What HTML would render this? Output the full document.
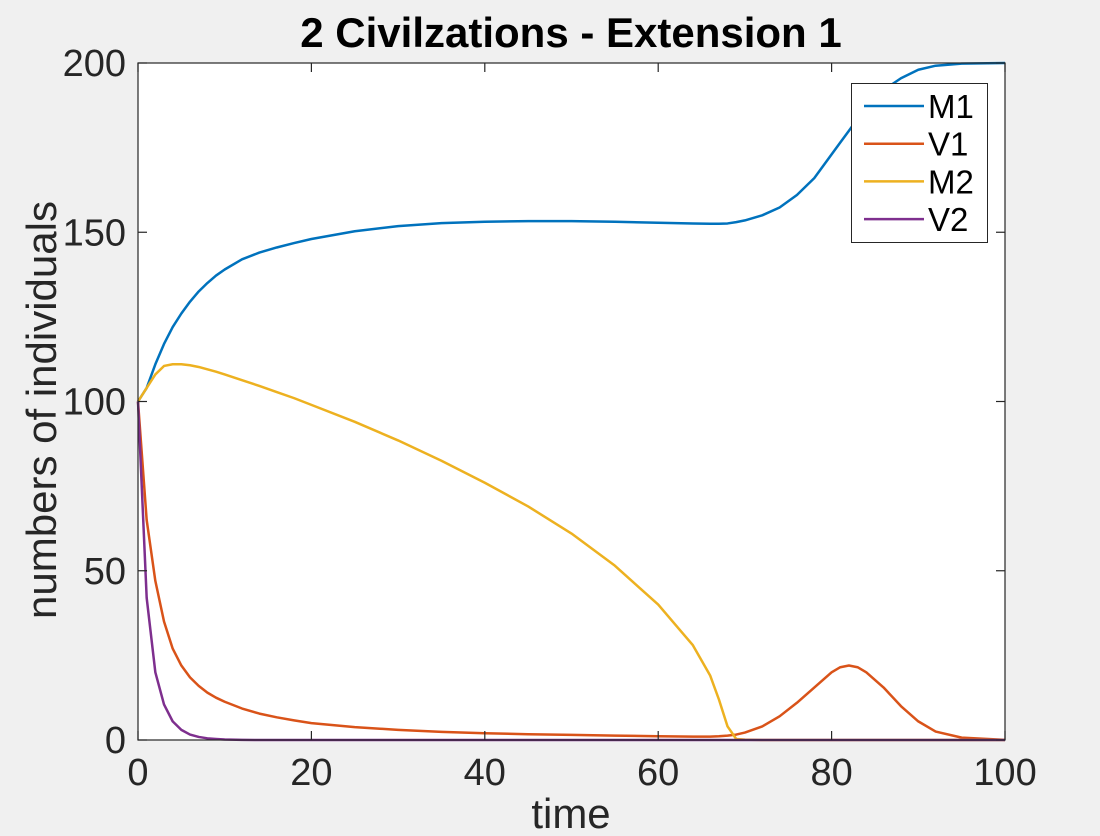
<!DOCTYPE html>
<html><head><meta charset="utf-8"><style>
body{margin:0;background:#f0f0f0;}
svg{display:block;font-family:"Liberation Sans",Arial,sans-serif;}
</style></head><body>
<svg id="chart" width="1100" height="836">
<rect x="0" y="0" width="1100" height="836" fill="#f0f0f0"/>
<rect x="138" y="63" width="867" height="677" fill="#fff"/>
<g id="series"></g>
<g id="axes"></g>
<text x="571" y="47" text-anchor="middle" font-size="42" font-weight="bold" fill="#000">2 Civilzations - Extension 1</text>
<text x="571" y="828" text-anchor="middle" font-size="42" fill="#262626">time</text>
<text transform="translate(56,410) rotate(-90)" text-anchor="middle" font-size="42" fill="#262626">numbers of individuals</text>
<g id="legend"></g>
</svg>
<script>
const times=[0,1,2,3,4,5,6,7,8,9,10,12,14,16,18,20,25,30,35,40,45,50,55,60,64,66,67,68,69,70,72,74,76,78,80,81,82,83,84,86,88,90,92,95,100];
const m1=[100,104,111,117,122,126,129.5,132.5,135,137.2,139,142,144,145.5,146.8,148,150.3,151.8,152.7,153.1,153.3,153.3,153.1,152.8,152.6,152.5,152.5,152.6,153,153.5,155,157.3,161,166,173,176.5,180,183.5,187,192,195.5,198,199.2,199.8,200];
const v1=[100,65,47,35,27,22,18.5,16,14,12.5,11.3,9.3,7.8,6.7,5.8,5,3.8,3,2.4,2,1.7,1.5,1.3,1.1,1,1,1.1,1.3,1.6,2.2,4,7,11,15.5,20,21.5,22,21.5,20,15.5,10,5.5,2.5,0.7,0.05];
const m2=[100,104,108,110.5,111,111,110.7,110.2,109.5,108.8,108,106.3,104.6,102.8,101,99,94,88.5,82.5,76,69,61,51.5,40,28,19,12,4,0.3,0.1,0,0,0,0,0,0,0,0,0,0,0,0,0,0,0];
const v2=[100,42,20,10.5,5.5,3,1.6,0.9,0.5,0.3,0.15,0.05,0,0,0,0,0,0,0,0,0,0,0,0,0,0,0,0,0,0,0,0,0,0,0,0,0,0,0,0,0,0,0,0,0];
const seriesNames=["M1","V1","M2","V2"];
const seriesColors=["#0072bd","#d95319","#edb120","#7e2f8e"];
const xTicks=[0,20,40,60,80,100];
const yTicks=[0,50,100,150,200];
const NS="http://www.w3.org/2000/svg";
const X0=138,X1=1005,Y0=740,Y1=63;
const sx=t=>X0+(t-0)/100*(X1-X0);
const sy=v=>Y0-(v-0)/200*(Y0-Y1);
function mk(tag,attrs,parent){const e=document.createElementNS(NS,tag);for(const k in attrs)e.setAttribute(k,attrs[k]);parent.appendChild(e);return e;}
const sg=document.getElementById('series');
[m1,v1,m2,v2].forEach((vals,i)=>{
  const d=vals.map((v,j)=>(j?'L':'M')+sx(times[j]).toFixed(2)+','+sy(v).toFixed(2)).join('');
  const p=mk('path',{d:d,fill:'none',stroke:seriesColors[i],'stroke-width':2.5,'stroke-linejoin':'round'},sg);
  
  
});
const ax=document.getElementById('axes');
const box=mk('rect',{x:X0,y:Y1,width:X1-X0,height:Y0-Y1,fill:'none',stroke:'#262626','stroke-width':1.2},ax);


xTicks.forEach(t=>{
  const x=sx(t);
  mk('line',{x1:x,x2:x,y1:Y0,y2:Y0-9,stroke:'#262626','stroke-width':1.2},ax);
  mk('line',{x1:x,x2:x,y1:Y1,y2:Y1+9,stroke:'#262626','stroke-width':1.2},ax);
  const tx=mk('text',{x:x,y:Y0+45,'text-anchor':'middle','font-size':38,fill:'#262626'},ax);
  tx.textContent=t;
  
  
});
yTicks.forEach(v=>{
  const y=sy(v);
  mk('line',{x1:X0,x2:X0+9,y1:y,y2:y,stroke:'#262626','stroke-width':1.2},ax);
  mk('line',{x1:X1,x2:X1-9,y1:y,y2:y,stroke:'#262626','stroke-width':1.2},ax);
  const tx=mk('text',{x:X0-12,y:y+13,'text-anchor':'end','font-size':38,fill:'#262626'},ax);
  tx.textContent=v;
  
  
});
const lg=document.getElementById('legend');
mk('rect',{x:851.5,y:83.5,width:136,height:159,fill:'#fff',stroke:'#262626','stroke-width':1},lg);
seriesNames.forEach((n,i)=>{
  const y=106+i*37.7;
  const ln=mk('line',{x1:864,x2:924,y1:y,y2:y,stroke:seriesColors[i],'stroke-width':2.5},lg);
  
  
  const t=mk('text',{x:928,y:y+12,'font-size':33,fill:'#000'},lg);
  t.textContent=n;
  
  
});
</script>
</body></html>
